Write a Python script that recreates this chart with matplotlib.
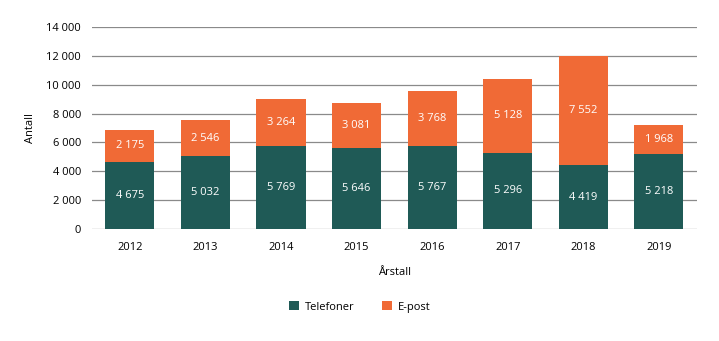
import matplotlib
matplotlib.use("Agg")
import matplotlib.pyplot as plt
import numpy as np

plt.rcParams['font.family'] = ['Open Sans', 'DejaVu Sans']

years = ["2012", "2013", "2014", "2015", "2016", "2017", "2018", "2019"]
telefoner = [4675, 5032, 5769, 5646, 5767, 5296, 4419, 5218]
epost = [2175, 2546, 3264, 3081, 3768, 5128, 7552, 1968]
yticks = [0, 2000, 4000, 6000, 8000, 10000, 12000, 14000]

green = "#1f5a56"
orange = "#f06a36"


def fmt(v):
    return f"{v:,}".replace(",", " ")


fig = plt.figure(figsize=(7.19, 3.41), dpi=100)
ax = fig.add_axes([0.128, 0.328, 0.841, 0.593])

x = np.arange(len(years))
w = 0.65
b1 = ax.bar(x, telefoner, w, color=green, label="Telefoner", zorder=3)
b2 = ax.bar(x, epost, w, bottom=telefoner, color=orange, label="E-post", zorder=3)

for xi, t, e in zip(x, telefoner, epost):
    ax.text(xi, t / 2, fmt(t), ha="center", va="center", color="white", fontsize=8, zorder=4)
    ax.text(xi, t + e / 2, fmt(e), ha="center", va="center", color="white", fontsize=8, zorder=4)

ax.set_ylim(0, 14000)
ax.set_xlim(-0.5, len(years) - 0.5)
ax.set_yticks(yticks)
ax.set_yticklabels([fmt(v) for v in yticks], fontsize=8)
ax.set_xticks(x)
ax.set_xticklabels(years, fontsize=8)
ax.tick_params(length=0, pad=8)
ax.tick_params(axis="x", pad=9)
ax.yaxis.grid(True, color="#8a8a8a", linewidth=0.9, zorder=0)
for s in ax.spines.values():
    s.set_visible(False)

ax.set_ylabel("Antall", fontsize=8, labelpad=7)
ax.set_xlabel("Årstall", fontsize=8, labelpad=10)

fig.legend(handles=[b1, b2], labels=["Telefoner", "E-post"], loc="center",
           bbox_to_anchor=(0.5, 0.1), ncol=2, frameon=False, fontsize=8,
           handlelength=0.9, handleheight=0.9, columnspacing=2.5, handletextpad=0.5)

fig.savefig("out.png", dpi=100)
